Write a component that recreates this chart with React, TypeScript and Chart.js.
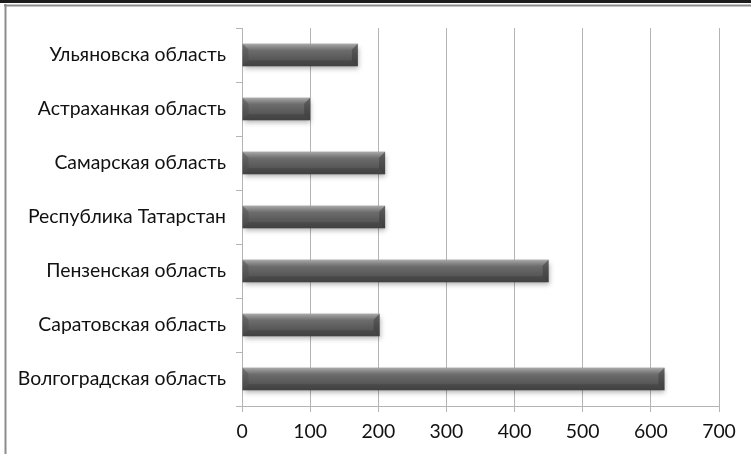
import React, { useEffect, useRef } from "react";
import { Chart, registerables } from "chart.js";

Chart.register(...registerables);

const categories = [
  "Ульяновска область",
  "Астраханкая область",
  "Самарская область",
  "Республика Татарстан",
  "Пензенская область",
  "Саратовская область",
  "Волгоградская область",
];
const values = [170, 100, 210, 210, 450, 202, 620];
const xMin = 0;
const xMax = 700;
const xStep = 100;

const FONT = "Lato, 'Open Sans', sans-serif";
const FONT_SIZE = 19.4;
const BAR_FRACTION = 0.42;

const framePlugin = {
  id: "frame",
  beforeDraw(chart: any) {
    const { ctx, width, height } = chart;
    ctx.save();
    ctx.fillStyle = "#ffffff";
    ctx.fillRect(0, 0, width, height);
    ctx.fillStyle = "#1c1c1c";
    ctx.fillRect(0, 0, width, 3);
    ctx.fillStyle = "#8c8c8c";
    ctx.fillRect(4, 4.5, width - 4, 2);
    ctx.fillRect(4.5, 4, 2, height - 4);
    ctx.restore();
  },
};

const shadowPlugin = {
  id: "barShadow",
  beforeDatasetsDraw(chart: any) {
    const ctx = chart.ctx;
    ctx.save();
    ctx.shadowColor = "rgba(0,0,0,0.3)";
    ctx.shadowBlur = 5;
    ctx.shadowOffsetX = 1;
    ctx.shadowOffsetY = 3;
  },
  afterDatasetsDraw(chart: any) {
    const ctx = chart.ctx;
    ctx.restore();
    const meta = chart.getDatasetMeta(0);
    const b = 6;
    meta.data.forEach((el: any) => {
      const { x, y, base, height } = el.getProps(["x", "y", "base", "height"], true);
      if (![x, y, base, height].every((v) => Number.isFinite(v))) return;
      const x0 = Math.min(x, base);
      const x1 = Math.max(x, base);
      const top = y - height / 2;
      const bot = y + height / 2;
      ctx.save();
      const g = ctx.createLinearGradient(0, top, 0, top + b);
      g.addColorStop(0, "rgba(185,185,185,0.7)");
      g.addColorStop(1, "rgba(140,140,140,0.15)");
      ctx.fillStyle = g;
      ctx.beginPath();
      ctx.moveTo(x0, top);
      ctx.lineTo(x1, top);
      ctx.lineTo(x1 - b, top + b);
      ctx.lineTo(x0 + b, top + b);
      ctx.closePath();
      ctx.fill();
      ctx.fillStyle = "rgba(60,60,60,0.25)";
      ctx.beginPath();
      ctx.moveTo(x0, top);
      ctx.lineTo(x0 + b, top + b);
      ctx.lineTo(x0 + b, bot - b);
      ctx.lineTo(x0, bot);
      ctx.closePath();
      ctx.fill();
      ctx.fillStyle = "rgba(40,40,40,0.35)";
      ctx.beginPath();
      ctx.moveTo(x1, top);
      ctx.lineTo(x1, bot);
      ctx.lineTo(x1 - b, bot - b);
      ctx.lineTo(x1 - b, top + b);
      ctx.closePath();
      ctx.fill();
      ctx.fillStyle = "rgba(40,40,40,0.25)";
      ctx.beginPath();
      ctx.moveTo(x0, bot);
      ctx.lineTo(x1, bot);
      ctx.lineTo(x1 - b, bot - b);
      ctx.lineTo(x0 + b, bot - b);
      ctx.closePath();
      ctx.fill();
      ctx.restore();
    });
  },
};

export default function App() {
  const ref = useRef<HTMLCanvasElement | null>(null);

  useEffect(() => {
    if (!ref.current) return;
    const chart = new Chart(ref.current, {
      type: "bar",
      data: {
        labels: categories,
        datasets: [
          {
            data: values,
            backgroundColor: (c: any) => {
              const ch = c.chart;
              const ys = ch.scales && ch.scales.y;
              if (!ys || c.dataIndex === undefined) return "#5c5c5c";
              const yc = ys.getPixelForValue(c.dataIndex);
              const h = (ys.height / categories.length) * BAR_FRACTION;
              if (!Number.isFinite(yc) || !Number.isFinite(h) || h <= 0) return "#5c5c5c";
              const g = ch.ctx.createLinearGradient(0, yc - h / 2, 0, yc + h / 2);
              g.addColorStop(0, "#8a8a8a");
              g.addColorStop(0.3, "#6c6c6c");
              g.addColorStop(0.6, "#5c5c5c");
              g.addColorStop(1, "#4a4a4a");
              return g;
            },
            borderWidth: 0,
            barPercentage: BAR_FRACTION,
            categoryPercentage: 1,
          },
        ],
      },
      options: {
        indexAxis: "y",
        animation: false,
        responsive: false,
        maintainAspectRatio: false,
        layout: { padding: { left: 0, top: 28, right: 32, bottom: 0 } },
        plugins: {
          legend: { display: false },
          tooltip: { enabled: false },
        },
        scales: {
          x: {
            min: xMin,
            max: xMax,
            ticks: {
              stepSize: xStep,
              color: "#111111",
              font: { family: FONT, size: FONT_SIZE },
              padding: 8,
            },
            grid: {
              color: "#b4b4b4",
              lineWidth: 1,
              tickLength: 6,
              drawTicks: true,
            },
            border: { display: true, color: "#b4b4b4", width: 1 },
            afterFit(scale: any) {
              scale.height = 48;
            },
          },
          y: {
            ticks: {
              color: "#111111",
              font: { family: FONT, size: FONT_SIZE },
              padding: 10,
            },
            grid: {
              display: true,
              drawOnChartArea: false,
              drawTicks: true,
              tickLength: 6,
              color: "#b4b4b4",
              offset: true,
            },
            border: { display: true, color: "#b4b4b4", width: 1 },
            afterFit(scale: any) {
              scale.width = 242;
            },
          },
        },
      },
      plugins: [framePlugin, shadowPlugin],
    });
    return () => chart.destroy();
  }, []);

  return (
    <div style={{ position: "fixed", left: 0, top: 0, width: 751, height: 454, background: "#fff" }}>
      <canvas ref={ref} width={751} height={454} style={{ width: 751, height: 454, display: "block" }} />
    </div>
  );
}
